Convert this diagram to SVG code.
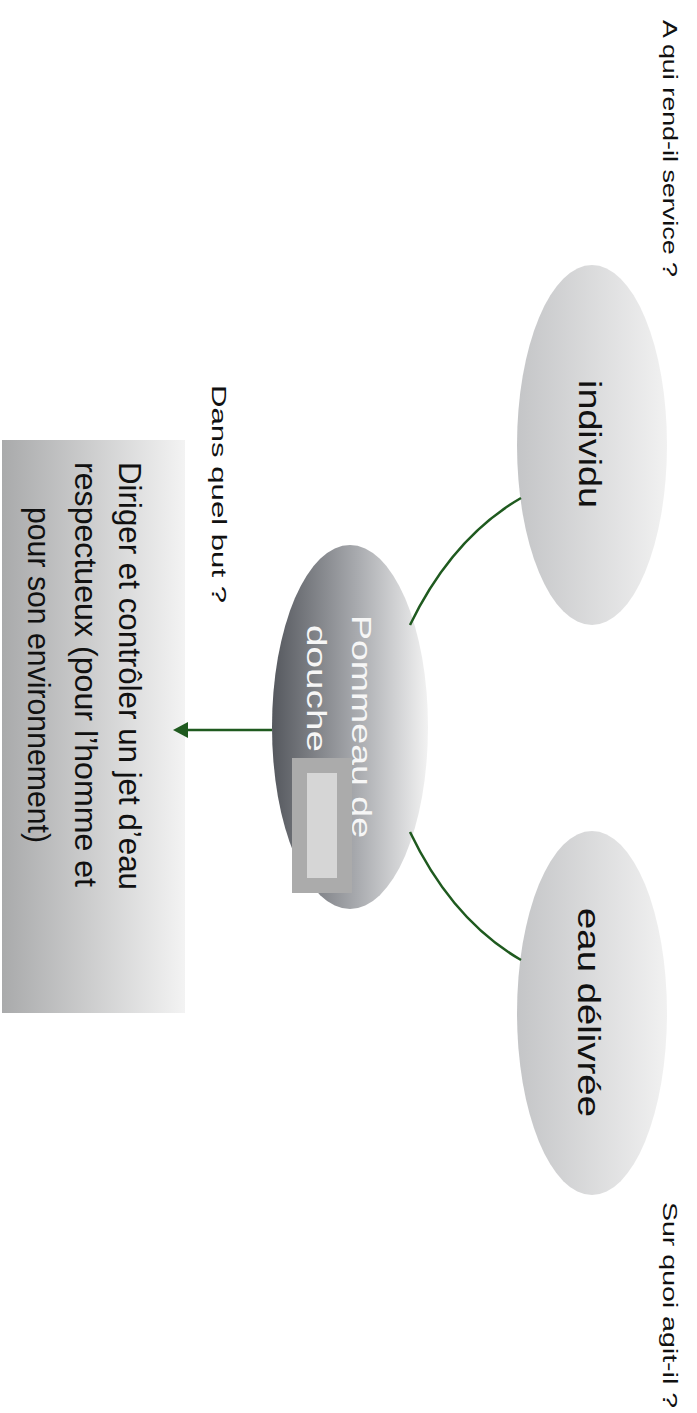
<svg xmlns="http://www.w3.org/2000/svg" width="697" height="1413" viewBox="0 0 697 1413">
<style>
  text { font-family: "Liberation Sans", Arial, Helvetica, sans-serif; }
  .lbl { font-size: 20px; fill: #111; }
  .node { font-size: 31px; fill: #111; }
  .center { font-size: 28px; fill: #f6f6f6; }
  .box { font-size: 32px; fill: #111; }
  .conn { fill: none; stroke: #1f5a1f; stroke-width: 2.5; }
  .head { fill: #1f5a1f; stroke: none; }
</style>
<defs>
  <linearGradient id="gOuter" x1="0" y1="0" x2="1" y2="0">
    <stop offset="0" stop-color="#c4c5c7"/>
    <stop offset="1" stop-color="#f1f1f1"/>
  </linearGradient>
  <linearGradient id="gCenter" x1="0" y1="0" x2="1" y2="0">
    <stop offset="0" stop-color="#55585e"/>
    <stop offset="0.55" stop-color="#a9abaf"/>
    <stop offset="1" stop-color="#f2f2f2"/>
  </linearGradient>
  <linearGradient id="gBox" x1="0" y1="0" x2="1" y2="0">
    <stop offset="0" stop-color="#a9aaab"/>
    <stop offset="1" stop-color="#f3f3f3"/>
  </linearGradient>
</defs>

<g id="label-service">
  <text class="lbl" transform="translate(663,20) rotate(90)" textLength="257" lengthAdjust="spacingAndGlyphs">A qui rend-il service ?</text>
</g>
<g id="label-agit">
  <text class="lbl" transform="translate(663,1202) rotate(90)" textLength="206" lengthAdjust="spacingAndGlyphs">Sur quoi agit-il ?</text>
</g>
<g id="label-but">
  <text class="lbl" transform="translate(212,385) rotate(90)" textLength="218" lengthAdjust="spacingAndGlyphs">Dans quel but ?</text>
</g>

<g id="node-individu">
  <ellipse cx="592" cy="445" rx="75" ry="180" fill="url(#gOuter)"/>
  <text class="node" transform="translate(579,380) rotate(90)" textLength="128" lengthAdjust="spacingAndGlyphs">individu</text>
</g>

<g id="node-eau">
  <ellipse cx="592" cy="1013" rx="75" ry="182" fill="url(#gOuter)"/>
  <text class="node" transform="translate(578,908) rotate(90)" textLength="209" lengthAdjust="spacingAndGlyphs">eau délivrée</text>
</g>

<g id="node-pommeau">
  <ellipse cx="350" cy="727" rx="78" ry="182" fill="url(#gCenter)"/>
  <text class="center" transform="translate(352,615) rotate(90)" textLength="223" lengthAdjust="spacingAndGlyphs">Pommeau de</text>
  <text class="center" transform="translate(307,625) rotate(90)" textLength="127" lengthAdjust="spacingAndGlyphs">douche</text>
  <rect x="292" y="758" width="60" height="135" fill="#ababab"/>
  <rect x="307" y="773" width="30" height="105" fill="#d6d6d6"/>
</g>

<g id="node-but">
  <rect x="2" y="440" width="183" height="573" fill="url(#gBox)"/>
  <text class="box" transform="translate(119,462) rotate(90)" textLength="428" lengthAdjust="spacingAndGlyphs">Diriger et contrôler un jet d’eau</text>
  <text class="box" transform="translate(75,462) rotate(90)" textLength="425" lengthAdjust="spacingAndGlyphs">respectueux (pour l’homme et</text>
  <text class="box" transform="translate(28,507) rotate(90)" textLength="336" lengthAdjust="spacingAndGlyphs">pour son environnement)</text>
</g>

<g id="connectors">
  <path class="conn" d="M410,625 Q452,538 521,498"/>
  <path class="conn" d="M410,832 Q452,920 521,960"/>
  <path class="conn" d="M272,730 L185,730"/>
  <polygon class="head" points="173,730 188,722 188,738"/>
</g>
</svg>
